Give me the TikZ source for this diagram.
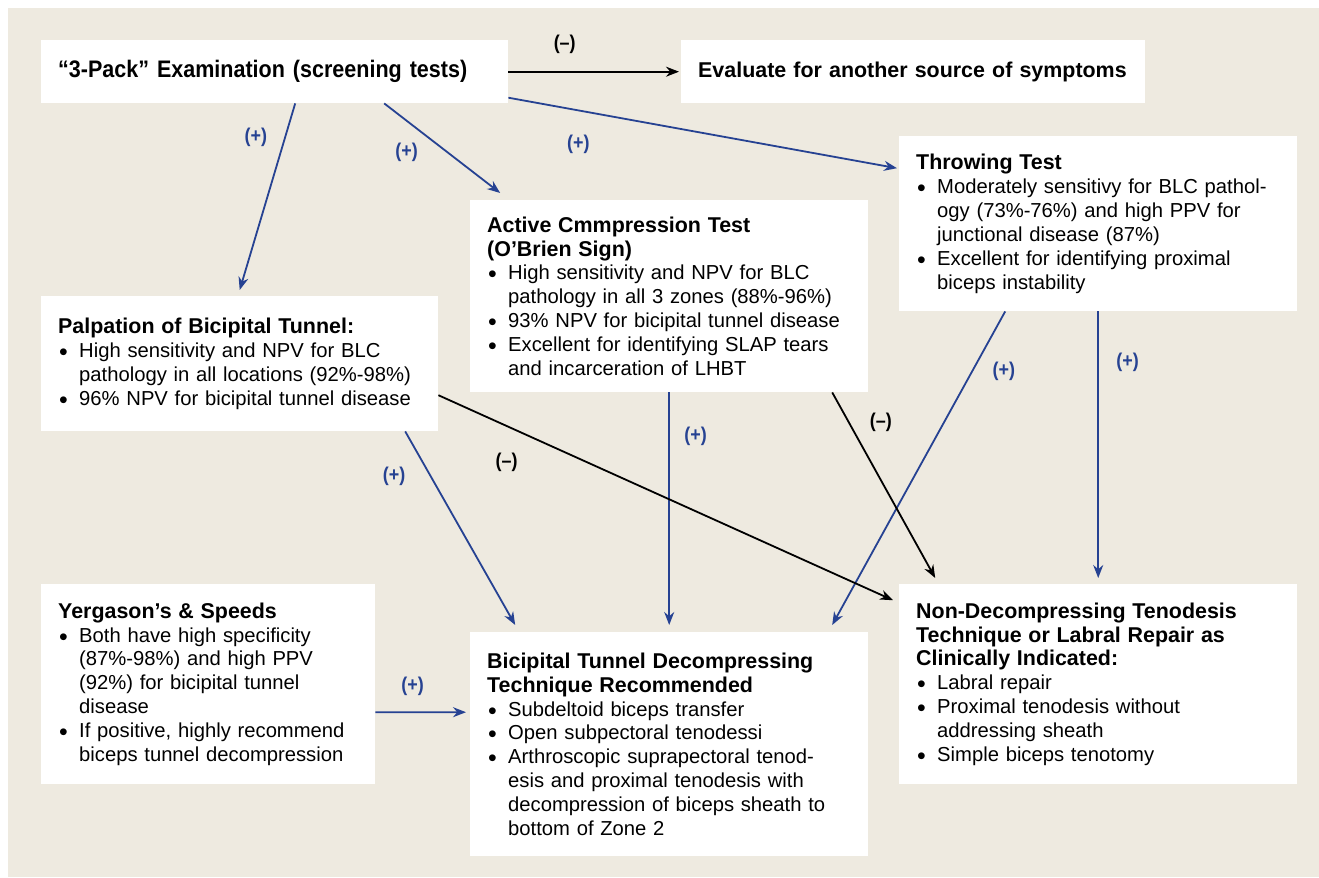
\documentclass[tikz,border=0pt]{standalone}
\usepackage{fontspec}
\setmainfont{Liberation Sans}
\newfontfamily\condfont[FakeStretch=0.9]{Liberation Sans}
\usetikzlibrary{arrows.meta}
\definecolor{beige}{RGB}{238,234,224}
\definecolor{arrblue}{RGB}{38,66,146}
\newcommand{\bitem}{\par\hangindent=21bp\hangafter=1\noindent
  \makebox[21bp][l]{\hspace{1bp}\raisebox{-3bp}{\fontsize{25}{24}\selectfont\textbullet}}}
\newcommand{\nl}{\break}

\begin{document}
\begin{tikzpicture}[x=1bp,y=-1bp,
    box/.style={fill=white,anchor=north west,inner xsep=17bp,inner ysep=0bp,align=left,
      font=\fontsize{20.3}{24}\selectfont},
    link/.style={line width=1.8bp,-{Stealth[length=13bp,width=10bp]}},
    poslab/.style={arrblue,font=\condfont\bfseries\fontsize{20}{22}\selectfont},
    neglab/.style={black,font=\condfont\bfseries\fontsize{20}{22}\selectfont}]
        \useasboundingbox (0,0) rectangle (1319,877);
        \fill[beige] (8,8) rectangle (1319,877);
        % boxes
        \node[box,minimum height=63bp,text width=433bp,font=\condfont\bfseries\fontsize{24}{26}\selectfont] (pack) at (41,40)
          {“3-Pack” Examination (screening tests)};
        \node[box,minimum height=63bp,text width=430bp,font=\bfseries\fontsize{21.5}{24}\selectfont] (evalb) at (681,40)
          {Evaluate for another source of symptoms};
        \node[box,minimum height=175bp,text width=364bp] (throw) at (899,136)
          {{\bfseries\fontsize{21.5}{24}\selectfont Throwing Test}
           \bitem Moderately sensitivy for BLC pathol-\nl ogy (73\%-76\%) and high PPV for\nl junctional disease (87\%)
           \bitem Excellent for identifying proximal\nl biceps instability\par};
        \node[box,minimum height=192bp,text width=364bp] (active) at (470,200)
          {{\bfseries\fontsize{21.5}{24}\selectfont Active Cmmpression Test\nl (O’Brien Sign)}
           \bitem High sensitivity and NPV for BLC\nl pathology in all 3 zones (88\%-96\%)
           \bitem 93\% NPV for bicipital tunnel disease
           \bitem Excellent for identifying SLAP tears\nl and incarceration of LHBT\par};
        \node[box,minimum height=135bp,text width=363bp] (palp) at (41,296)
          {{\bfseries\fontsize{21.5}{24}\selectfont Palpation of Bicipital Tunnel:}
           \bitem High sensitivity and NPV for BLC\nl pathology in all locations (92\%-98\%)
           \bitem 96\% NPV for bicipital tunnel disease\par};
        \node[box,minimum height=200bp,text width=300bp] (yerg) at (41,584)
          {{\bfseries\fontsize{21.5}{24}\selectfont Yergason’s \& Speeds}
           \bitem Both have high specificity\nl (87\%-98\%) and high PPV\nl (92\%) for bicipital tunnel\nl disease
           \bitem If positive, highly recommend\nl biceps tunnel decompression\par};
        \node[box,minimum height=224bp,text width=364bp] (bicip) at (470,632)
          {{\bfseries\fontsize{21.5}{24}\selectfont Bicipital Tunnel Decompressing\nl Technique Recommended}
           \bitem Subdeltoid biceps transfer
           \bitem Open subpectoral tenodessi
           \bitem Arthroscopic suprapectoral tenod-\nl esis and proximal tenodesis with\nl decompression of biceps sheath to\nl bottom of Zone 2\par};
        \node[box,minimum height=200bp,text width=364bp] (nondec) at (899,584)
          {{\bfseries\fontsize{21.5}{24}\selectfont Non-Decompressing Tenodesis\nl Technique or Labral Repair as\nl Clinically Indicated:}
           \bitem Labral repair
           \bitem Proximal tenodesis without\nl addressing sheath
           \bitem Simple biceps tenotomy\par};
        % connectors
        \draw[link] (pack.east) -- node[neglab,pos=0.33,above=14bp]{(–)} ([xshift=-2bp]evalb.west);
        \draw[link,arrblue] ([xshift=20.5bp]pack.south) -- node[poslab,pos=0.18,left=14bp]{(+)} ([yshift=6bp]palp.north);
        \draw[link,arrblue] ([xshift=109.5bp]pack.south) -- node[poslab,pos=0.55,left=26bp]{(+)} ([xshift=-169bp,yshift=7bp]active.north);
        \draw[link,arrblue] ([yshift=-26bp]pack.east) -- node[poslab,pos=0.18,below=20bp]{(+)} ([xshift=-2bp,yshift=55.5bp]throw.west);
        \draw[link,arrblue] ([xshift=-93bp]throw.south) -- node[poslab,pos=0.19,right=16bp]{(+)} ([xshift=163bp,yshift=7bp]bicip.north);
        \draw[link,arrblue] (throw.south) -- node[poslab,pos=0.19,right=14bp]{(+)} ([yshift=6bp]nondec.north);
        \draw[link,arrblue] (active.south) -- node[poslab,pos=0.19,right=11bp]{(+)} ([yshift=7bp]bicip.north);
        \draw[link] ([xshift=163bp]active.south) -- node[neglab,pos=0.16,right=17bp]{(–)} ([xshift=-163bp,yshift=6bp]nondec.north);
        \draw[link,arrblue] ([xshift=165.5bp]palp.south) -- node[poslab,pos=0.23,left=21bp]{(+)} ([xshift=-154bp,yshift=7bp]bicip.north);
        \draw[link] ([yshift=-31.5bp]palp.east) -- node[neglab,pos=0.15,below=23bp]{(–)} ([xshift=-6bp,yshift=84bp]nondec.west);
        \draw[link,arrblue] ([yshift=-28bp]yerg.east) -- node[poslab,pos=0.41,above=12bp]{(+)} ([xshift=-4bp,yshift=32bp]bicip.west);
      \end{tikzpicture}
\end{document}
